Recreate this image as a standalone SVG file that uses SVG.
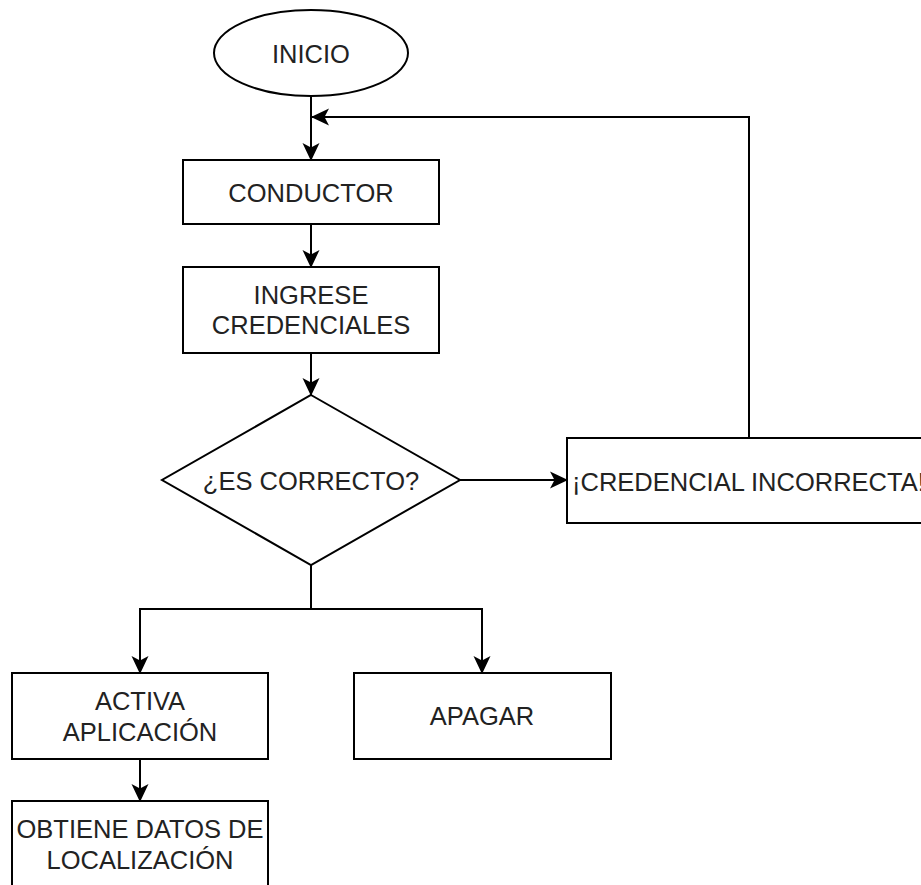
<svg xmlns="http://www.w3.org/2000/svg" width="921" height="885" viewBox="0 0 921 885">
  <style>
    .shape { fill: #ffffff; stroke: #000000; stroke-width: 2; }
    .edge { fill: none; stroke: #000000; stroke-width: 2; }
    .label { font-family: "Liberation Sans", Arial, Helvetica, sans-serif; font-size: 25.5px; fill: #222222; text-anchor: middle; }
  </style>
  <defs>
    <!-- classic notched arrowhead, sized in user units -->
    <marker id="arrow" markerUnits="userSpaceOnUse" viewBox="0 0 18 18" refX="17" refY="9" markerWidth="18" markerHeight="18" orient="auto">
      <path d="M0,0.5 L18,9 L0,17.5 L4.5,9 Z" fill="#000000"/>
    </marker>
  </defs>
  <rect width="921" height="885" fill="#ffffff"/>

  <!-- connectors -->
  <g id="connectors">
    <path class="edge" d="M311,96 L311,160" marker-end="url(#arrow)"/>
    <path class="edge" d="M311,224 L311,267" marker-end="url(#arrow)"/>
    <path class="edge" d="M311,353 L311,395" marker-end="url(#arrow)"/>
    <path class="edge" d="M460,480 L567,480" marker-end="url(#arrow)"/>
    <path class="edge" d="M749,438 L749,117 L312,117" marker-end="url(#arrow)"/>
    <path class="edge" d="M311,565 L311,609 L140,609 L140,673" marker-end="url(#arrow)"/>
    <path class="edge" d="M311,609 L482,609 L482,673" marker-end="url(#arrow)"/>
    <path class="edge" d="M140,759 L140,801" marker-end="url(#arrow)"/>
  </g>

  <g id="inicio">
    <ellipse class="shape" cx="311" cy="53" rx="97" ry="43"/>
    <text class="label" x="311" y="63">INICIO</text>
  </g>

  <g id="conductor">
    <rect class="shape" x="183" y="160" width="256" height="64"/>
    <text class="label" x="311" y="202">CONDUCTOR</text>
  </g>

  <g id="ingrese-credenciales">
    <rect class="shape" x="183" y="267" width="256" height="86"/>
    <text class="label" x="311" y="304">INGRESE</text>
    <text class="label" x="311" y="334">CREDENCIALES</text>
  </g>

  <g id="es-correcto">
    <polygon class="shape" points="311,395 460,480 311,565 162,480"/>
    <text class="label" x="311" y="490">¿ES CORRECTO?</text>
  </g>

  <g id="credencial-incorrecta">
    <rect class="shape" x="567" y="438" width="380" height="85"/>
    <text class="label" x="572" y="491" style="text-anchor:start">¡CREDENCIAL INCORRECTA!</text>
  </g>

  <g id="activa-aplicacion">
    <rect class="shape" x="12" y="673" width="256" height="86"/>
    <text class="label" x="140" y="710">ACTIVA</text>
    <text class="label" x="140" y="741">APLICACIÓN</text>
  </g>

  <g id="apagar">
    <rect class="shape" x="354" y="673" width="257" height="86"/>
    <text class="label" x="482" y="725">APAGAR</text>
  </g>

  <g id="obtiene-datos">
    <rect class="shape" x="12" y="801" width="256" height="86"/>
    <text class="label" x="140" y="838">OBTIENE DATOS DE</text>
    <text class="label" x="140" y="869">LOCALIZACIÓN</text>
  </g>
</svg>
